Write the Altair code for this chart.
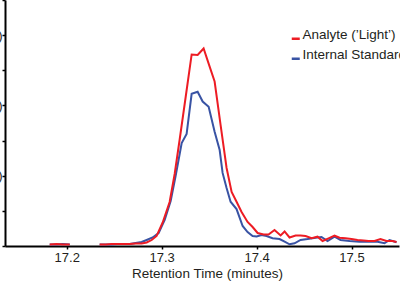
import altair as alt
import pandas as pd

series_names = ["Analyte (’Light’)", "Internal Standard"]
colors = ["#ED1C24", "#3953A4"]

# Analyte ('Light') trace: retention time (min), intensity, segment id
red_t = [17.1821, 17.1895, 17.1958, 17.2032,
         17.2347, 17.2411, 17.2474, 17.2537, 17.2600, 17.2663, 17.2726, 17.2789,
         17.2842, 17.2895, 17.2947, 17.3011, 17.3084, 17.3137, 17.3189, 17.3253,
         17.3316, 17.3379, 17.3442, 17.3495, 17.3558, 17.3621, 17.3684, 17.3737,
         17.3789, 17.3842, 17.3905, 17.3958, 17.4011, 17.4074, 17.4126, 17.4189,
         17.4253, 17.4295, 17.4347, 17.4411, 17.4463, 17.4516, 17.4579, 17.4642,
         17.4695, 17.4758, 17.4821, 17.4874, 17.4937, 17.5000, 17.5063, 17.5126,
         17.5179, 17.5242, 17.5305, 17.5368, 17.5432, 17.5474]
red_v = [0.043, 0.057, 0.043, 0.043,
         0.043, 0.043, 0.057, 0.057, 0.057, 0.057, 0.071, 0.071,
         0.10, 0.17, 0.285, 0.669, 1.252, 2.049, 3.016, 4.24,
         5.45, 5.435, 5.62, 5.19, 4.68, 3.44, 2.22, 1.54,
         1.26, 0.967, 0.683, 0.541, 0.37, 0.327, 0.327, 0.455,
         0.30, 0.413, 0.242, 0.30, 0.30, 0.285, 0.219, 0.265,
         0.142, 0.219, 0.293, 0.236, 0.219, 0.20, 0.171, 0.157,
         0.142, 0.142, 0.20, 0.142, 0.142, 0.114]
red_seg = [1] * 4 + [2] * 54

# Internal Standard trace
blue_t = [17.1821, 17.1895, 17.1958, 17.2032,
          17.2347, 17.2411, 17.2474, 17.2537, 17.2600, 17.2663, 17.2726, 17.2789,
          17.2842, 17.2905, 17.2968, 17.3032, 17.3095, 17.3147, 17.3211, 17.3263,
          17.3316, 17.3379, 17.3432, 17.3495, 17.3558, 17.3611, 17.3642, 17.3684,
          17.3726, 17.3789, 17.3853, 17.3905, 17.3958, 17.4000, 17.4053, 17.4105,
          17.4168, 17.4242, 17.4295, 17.4347, 17.4400, 17.4463, 17.4537, 17.4621,
          17.4684, 17.4747, 17.4821, 17.4884, 17.4979, 17.5084, 17.5189, 17.5274,
          17.5347, 17.5400, 17.5474]
blue_v = [0.043, 0.043, 0.057, 0.043,
          0.043, 0.043, 0.043, 0.057, 0.057, 0.057, 0.085, 0.114,
          0.171, 0.242, 0.37, 0.74, 1.28, 1.99, 2.93, 3.19,
          4.33, 4.39, 4.11, 3.96, 3.25, 2.73, 2.08, 1.65,
          1.26, 1.05, 0.569, 0.398, 0.285, 0.27, 0.313, 0.285,
          0.219, 0.199, 0.122, 0.048, 0.077, 0.171, 0.199, 0.236,
          0.256, 0.142, 0.265, 0.171, 0.142, 0.122, 0.122, 0.122,
          0.077, 0.171, 0.105]
blue_seg = [1] * 4 + [2] * 51

x_ticks = [17.2, 17.3, 17.4, 17.5]
y_ticks = [0, 1, 2, 3, 4, 5, 6, 7]

red_df = pd.DataFrame({"t": red_t, "v": red_v, "seg": red_seg, "series": series_names[0]})
blue_df = pd.DataFrame({"t": blue_t, "v": blue_v, "seg": blue_seg, "series": series_names[1]})

FONT = "Liberation Sans"
TXT = "#231F20"

x_enc = alt.X("t:Q",
              scale=alt.Scale(domain=[17.135, 17.55], nice=False, zero=False),
              axis=alt.Axis(values=x_ticks, format=".1f", title="Retention Time (minutes)",
                            tickSize=3, labelPadding=2, titlePadding=2, titleX=202))
y_enc = alt.Y("v:Q",
              scale=alt.Scale(domain=[0, 7], nice=False),
              axis=alt.Axis(values=y_ticks, title=None, tickSize=3, labelPadding=0,
                            labelExpr="datum.value > 0 && datum.value % 2 == 0 ? '(' + datum.value + ')' : ''"))
color_enc = alt.Color("series:N",
                      scale=alt.Scale(domain=series_names, range=colors),
                      legend=alt.Legend(orient="none", legendX=284, legendY=32, title=None,
                                        symbolType="stroke", symbolSize=64, symbolStrokeWidth=2.5,
                                        labelFontSize=13.5, labelFont=FONT, labelColor=TXT,
                                        labelBaseline="alphabetic", labelOffset=0,
                                        rowPadding=3, padding=0))

blue_layer = alt.Chart(blue_df).mark_line(strokeWidth=2).encode(x=x_enc, y=y_enc, color=color_enc, detail="seg:N")
red_layer = alt.Chart(red_df).mark_line(strokeWidth=2).encode(x=x_enc, y=y_enc, color=color_enc, detail="seg:N")

chart = alt.layer(blue_layer, red_layer).properties(
    width=394, height=246,
    autosize=alt.AutoSizeParams(type="none"),
    padding={"left": 5, "top": 0, "right": 1, "bottom": 44},
).configure_view(stroke=None).configure_axis(
    grid=False, domainColor="black", domainWidth=2, tickColor="black", tickWidth=1.5,
    labelFont=FONT, labelFontSize=13, labelColor=TXT,
    titleFont=FONT, titleFontSize=13.5, titleColor=TXT, titleFontWeight="normal",
)

chart.save("out.html", embed_options={"renderer": "svg", "actions": False})
